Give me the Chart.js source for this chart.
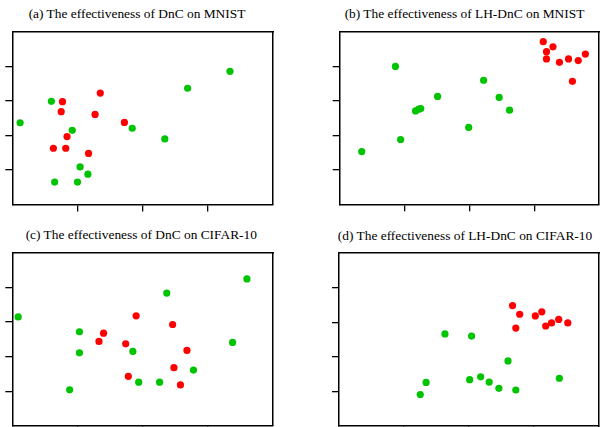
<!DOCTYPE html>
<html lang="en">
<head>
<meta charset="UTF-8" />
<title>Effectiveness of DnC and LH-DnC</title>
<script src="https://cdn.jsdelivr.net/npm/chart.js@4"></script>
<style>
  html, body {
    margin: 0;
    padding: 0;
    background: #fff;
    overflow: hidden;
    width: 604px;
    height: 427px;
  }
  .panel-title {
    position: absolute;
    width: 320px;
    text-align: center;
    font-family: "Liberation Serif", "Times New Roman", serif;
    font-size: 13.4px;
    line-height: 15px;
    color: #000;
    white-space: nowrap;
  }
  canvas {
    position: absolute;
  }
</style>
</head>
<body>

<script>
  // tick marks (no labels) on both axes
  const xTicks = [1, 2, 3];
  const yTicks = [1, 2, 3, 4];

  // (a) DnC on MNIST
  const dncMnistGreen = [[0.12, 2.37], [0.60, 2.99], [0.92, 2.15], [1.84, 2.21], [2.34, 1.90], [2.69, 3.37],
                         [3.34, 3.86], [1.04, 1.09], [1.16, 0.88], [0.65, 0.65], [1.00, 0.65]];
  const dncMnistRed = [[0.77, 2.98], [0.75, 2.69], [1.35, 3.23], [1.27, 2.61], [1.72, 2.38], [0.84, 1.97],
                       [0.63, 1.63], [0.82, 1.63], [1.17, 1.48]];

  // (b) LH-DnC on MNIST
  const lhMnistGreen = [[0.34, 1.53], [0.86, 4.00], [0.94, 1.88], [1.17, 2.71], [1.22, 2.76], [1.25, 2.78],
                        [1.51, 3.13], [1.99, 2.23], [2.22, 3.60], [2.46, 3.10], [2.62, 2.73]];
  const lhMnistRed = [[3.14, 4.72], [3.29, 4.57], [3.19, 4.43], [3.19, 4.22], [3.39, 4.12], [3.53, 4.22],
                      [3.68, 4.17], [3.79, 4.36], [3.59, 3.57]];

  // (c) DnC on CIFAR-10
  const dncCifarGreen = [[0.09, 3.15], [1.03, 2.72], [1.03, 2.11], [0.88, 1.04], [1.85, 2.15], [1.94, 1.26],
                         [2.26, 1.26], [2.37, 3.84], [2.78, 1.61], [3.38, 2.41], [3.60, 4.25]];
  const dncCifarRed = [[1.90, 3.18], [1.40, 2.68], [1.33, 2.44], [1.74, 2.37], [2.46, 2.93], [2.68, 2.18],
                       [2.48, 1.68], [1.78, 1.43], [2.58, 1.18]];

  // (d) LH-DnC on CIFAR-10
  const lhCifarGreen = [[1.63, 2.66], [2.04, 2.60], [2.60, 1.88], [1.34, 1.26], [1.25, 0.91], [2.01, 1.34],
                        [2.18, 1.42], [2.31, 1.27], [2.46, 1.09], [2.72, 1.04], [3.39, 1.38]];
  const lhCifarRed = [[2.67, 3.48], [2.78, 3.23], [2.72, 2.83], [3.02, 3.18], [3.12, 3.30], [3.18, 2.89],
                      [3.27, 2.98], [3.38, 3.08], [3.52, 2.98]];

  const titles = [
    '(a) The effectiveness of DnC on MNIST',
    '(b) The effectiveness of LH-DnC on MNIST',
    '(c) The effectiveness of DnC on CIFAR-10',
    '(d) The effectiveness of LH-DnC on CIFAR-10'
  ];

  // plot frames in page pixels, plus where each title sits
  const panels = [
    { frame: { l: 12.3, t: 31.3, r: 273.3, b: 204.5 }, titleX: 137, titleY: 6, green: dncMnistGreen, red: dncMnistRed },
    { frame: { l: 339.7, t: 31.3, r: 599.7, b: 204.3 }, titleX: 464.5, titleY: 6, green: lhMnistGreen, red: lhMnistRed },
    { frame: { l: 12.3, t: 252, r: 273.3, b: 425.7 }, titleX: 141.3, titleY: 227, green: dncCifarGreen, red: dncCifarRed },
    { frame: { l: 339, t: 252.7, r: 599.7, b: 426 }, titleX: 465, titleY: 228, green: lhCifarGreen, red: lhCifarRed }
  ];

  const GREEN = '#00c400';
  const RED = '#ff0000';
  const BORDER = { display: true, color: '#000', width: 1.5 };

  function toPoints(arr) {
    return arr.map(p => ({ x: p[0], y: p[1] }));
  }

  panels.forEach((p, i) => {
    const f = p.frame;
    // canvas box: leave room on the left/bottom for the outward tick marks
    const left = Math.floor(f.l - 12);
    const top = Math.floor(f.t - 3);
    const right = Math.ceil(f.r + 3);
    const bottom = Math.ceil(f.b + 9);

    const title = document.createElement('div');
    title.className = 'panel-title';
    title.textContent = titles[i];
    title.style.left = (p.titleX - 160) + 'px';
    title.style.top = p.titleY + 'px';
    document.body.appendChild(title);

    const canvas = document.createElement('canvas');
    canvas.width = right - left;
    canvas.height = bottom - top;
    canvas.style.left = left + 'px';
    canvas.style.top = top + 'px';
    document.body.appendChild(canvas);

    const yAxisWidth = f.l - left;
    const xAxisHeight = bottom - f.b;

    new Chart(canvas.getContext('2d'), {
      type: 'scatter',
      data: {
        datasets: [
          { data: toPoints(p.green), backgroundColor: GREEN, pointRadius: 3.6, borderWidth: 0, order: 2 },
          { data: toPoints(p.red), backgroundColor: RED, pointRadius: 3.6, borderWidth: 0, order: 1 }
        ]
      },
      options: {
        responsive: false,
        animation: false,
        events: [],
        layout: { padding: { top: f.t - top, right: right - f.r, left: 0, bottom: 0 } },
        plugins: {
          legend: { display: false },
          tooltip: { enabled: false }
        },
        scales: {
          x: {
            type: 'linear', position: 'bottom', min: 0, max: 4,
            afterBuildTicks: s => { s.ticks = xTicks.map(v => ({ value: v })); },
            afterFit: s => { s.height = xAxisHeight; },
            ticks: { display: false },
            grid: { drawOnChartArea: false, drawTicks: true, tickLength: 7, color: '#000', lineWidth: 1.3 },
            border: BORDER
          },
          y: {
            type: 'linear', position: 'left', min: 0, max: 5,
            afterBuildTicks: s => { s.ticks = yTicks.map(v => ({ value: v })); },
            afterFit: s => { s.width = yAxisWidth; },
            ticks: { display: false },
            grid: { drawOnChartArea: false, drawTicks: true, tickLength: 7, color: '#000', lineWidth: 1.3 },
            border: BORDER
          },
          // top and right edges of the box
          xTop: {
            type: 'linear', position: 'top', min: 0, max: 4,
            afterFit: s => { s.height = 0; },
            ticks: { display: false },
            grid: { display: false },
            border: BORDER
          },
          yRight: {
            type: 'linear', position: 'right', min: 0, max: 5,
            afterFit: s => { s.width = 0; },
            ticks: { display: false },
            grid: { display: false },
            border: BORDER
          }
        }
      }
    });
  });
</script>

</body>
</html>
